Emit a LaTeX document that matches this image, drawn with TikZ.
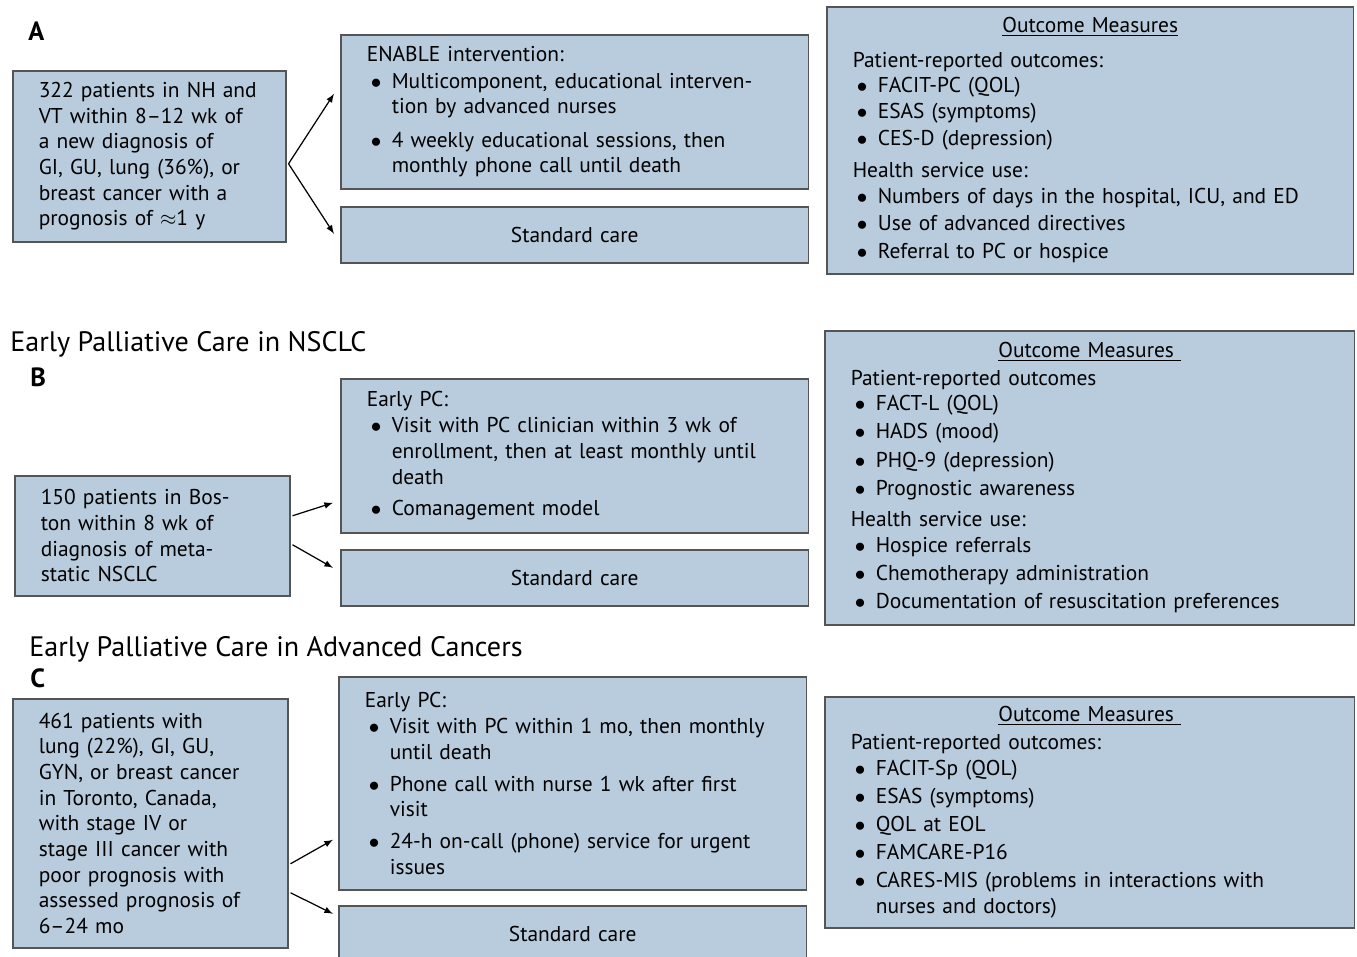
\documentclass[tikz,border=0pt]{standalone}
\usepackage{fontspec}
\setmainfont{PT Sans}
\definecolor{boxfill}{RGB}{184,204,221}
\definecolor{boxline}{RGB}{85,85,85}
\newlength{\bind}\setlength{\bind}{0.5cm}
\newcommand{\bodyfont}{\fontsize{12.2}{14.6}\selectfont}
\newcommand{\ttlfont}{\fontsize{16}{19}\selectfont}
\newcommand{\labfont}{\fontsize{15}{17}\selectfont\bfseries}
% bullet line with hanging indent, optional space above
\newcommand{\bitem}[2][1.4pt]{\par\vspace{#1}\hangindent=\bind\hangafter=1\noindent\makebox[\bind][l]{\hspace{0.08cm}$\bullet$}#2\par}
\newcommand{\hd}[2][3.5pt]{\par\vspace{#1}\noindent #2}
\newcommand{\omhead}[1]{\centerline{\underline{#1}}}
\begin{document}
\begin{tikzpicture}[x=0.02cm,y=-0.02cm,
    box/.style={draw=boxline, fill=boxfill, line width=0.9pt, anchor=north west,
      inner xsep=0.52cm, inner ysep=0pt, align=left, font=\bodyfont},
    ttl/.style={anchor=base west, inner sep=0pt, font=\ttlfont},
    lab/.style={anchor=base west, inner sep=0pt, font=\labfont},
    arr/.style={-latex, line width=0.7pt}]
\useasboundingbox (0,0) rectangle (1357,957);

% A
\node[lab] (la) at (28,40) {A};
\node[box, minimum width=5.46cm, minimum height=3.42cm, text width=4.42cm] (a1) at (12,70)
  {322 patients in NH and\\VT within 8--12 wk of\\a new diagnosis of\\GI, GU, lung (36\%), or\\breast cancer with a\\prognosis of $\approx$1 y};
\node[box, minimum width=9.36cm, minimum height=3.08cm, text width=8.32cm] (a2) at (340,34)
  {ENABLE intervention:
   \bitem[0.5pt]{Multicomponent, educational interven-\newline tion by advanced nurses}
   \bitem[4.5pt]{4 weekly educational sessions, then\newline monthly phone call until death}};
\node[box, align=center, minimum width=9.36cm, minimum height=1.12cm, text width=8.32cm] (a3) at (340,206)
  {Standard care};
\node[box, minimum width=10.54cm, minimum height=5.34cm, text width=9.5cm] (a4) at (826,6)
  {\omhead{Outcome Measures}
   \hd[5pt]{Patient-reported outcomes:}
   \bitem[0pt]{FACIT-PC (QOL)}
   \bitem[0pt]{ESAS (symptoms)}
   \bitem[1pt]{CES-D (depression)}
   \hd{Health service use:}
   \bitem[0pt]{Numbers of days in the hospital, ICU, and ED}
   \bitem[1pt]{Use of advanced directives}
   \bitem[1.5pt]{Referral to PC or hospice}};
\draw[arr] ([shift={(2,7.5)}]a1.east) -- ([shift={(-6,-18)}]a2.west);
\draw[arr] ([shift={(2,7.5)}]a1.east) -- ([shift={(-6,-1)}]a3.west);

% B
\node[ttl] (tb) at (10,351) {Early Palliative Care in NSCLC};
\node[lab] (lb) at (30,386) {B};
\node[box, minimum width=5.5cm, minimum height=2.4cm, text width=4.46cm] (b1) at (14,475)
  {150 patients in Bos-\\ton within 8 wk of\\diagnosis of meta-\\static NSCLC};
\node[box, minimum width=9.36cm, minimum height=3.08cm, text width=8.32cm] (b2) at (340,378)
  {Early PC:
   \bitem[0.5pt]{Visit with PC clinician within 3 wk of\newline enrollment, then at least monthly until\newline death}
   \bitem[3.5pt]{Comanagement model}};
\node[box, align=center, minimum width=9.36cm, minimum height=1.12cm, text width=8.32cm] (b3) at (340,549)
  {Standard care};
\node[box, minimum width=10.6cm, minimum height=5.88cm, text width=9.56cm] (b4) at (824,330)
  {\omhead{Outcome Measures\ }
   \hd[1pt]{Patient-reported outcomes}
   \bitem[0pt]{FACT-L (QOL)}
   \bitem{HADS (mood)}
   \bitem{PHQ-9 (depression)}
   \bitem{Prognostic awareness}
   \hd{Health service use:}
   \bitem[0pt]{Hospice referrals}
   \bitem{Chemotherapy administration}
   \bitem{Documentation of resuscitation preferences}};
\draw[arr] ([shift={(2,-20)}]b1.east) -- ([shift={(-7,47)}]b2.west);
\draw[arr] ([shift={(2,9)}]b1.east) -- ([shift={(-7,-10)}]b3.west);

% C
\node[ttl] (tc) at (29,656) {Early Palliative Care in Advanced Cancers};
\node[lab] (lc) at (30,687) {C};
\node[box, minimum width=5.5cm, minimum height=4.98cm, text width=4.46cm] (c1) at (12,698)
  {461 patients with\\lung (22\%), GI, GU,\\GYN, or breast cancer\\in Toronto, Canada,\\with stage IV or\\stage III cancer with\\poor prognosis with\\assessed prognosis of\\6--24 mo};
\node[box, minimum width=9.36cm, minimum height=4.26cm, text width=8.32cm] (c2) at (338,676)
  {Early PC:
   \bitem[0.5pt]{Visit with PC within 1 mo, then monthly\newline until death}
   \bitem[3.5pt]{Phone call with nurse 1 wk after first\newline visit}
   \bitem[3.5pt]{24-h on-call (phone) service for urgent\newline issues}};
\node[box, align=center, minimum width=9.36cm, minimum height=1.12cm, text width=8.32cm] (c3) at (338,905)
  {Standard care};
\node[box, minimum width=10.6cm, minimum height=4.62cm, text width=9.56cm] (c4) at (824,696)
  {\omhead{Outcome Measures\ }
   \hd[1pt]{Patient-reported outcomes:}
   \bitem[0pt]{FACIT-Sp (QOL)}
   \bitem{ESAS (symptoms)}
   \bitem{QOL at EOL}
   \bitem{FAMCARE-P16}
   \bitem{CARES-MIS (problems in interactions with\newline nurses and doctors)}};
\draw[arr] ([shift={(2,40.5)}]c1.east) -- ([shift={(-5,56.5)}]c2.west);
\draw[arr] ([shift={(2,69.5)}]c1.east) -- ([shift={(-5,-20)}]c3.west);
\end{tikzpicture}
\end{document}
